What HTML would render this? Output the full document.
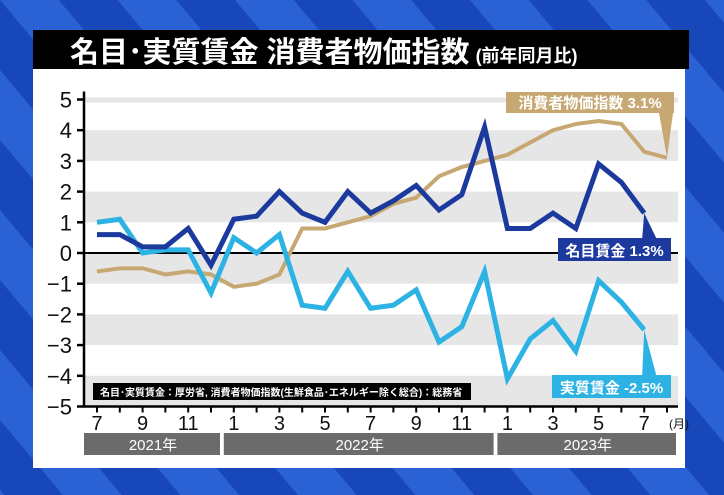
<!DOCTYPE html>
<html><head><meta charset="utf-8"><style>
html,body{margin:0;padding:0;width:724px;height:495px;overflow:hidden;font-family:"Liberation Sans","Noto Sans CJK JP",sans-serif;}
</style></head><body>
<svg width="724" height="495" viewBox="0 0 724 495" xmlns="http://www.w3.org/2000/svg">
<defs>
<pattern id="stripes" width="90" height="90" patternUnits="userSpaceOnUse" patternTransform="rotate(-40)">
<rect width="90" height="90" fill="#1747b8"/>
<rect width="45" height="90" fill="#2a62d6"/>
</pattern>
</defs>
<rect width="724" height="495" fill="url(#stripes)"/>
<rect x="33" y="68" width="652" height="400" fill="#fff"/>
<rect x="33" y="30" width="656" height="39" fill="#000"/>
<text x="70" y="62" fill="#fff" font-size="29" font-weight="bold">名目･実質賃金  消費者物価指数<tspan font-size="18" dx="6">(前年同月比)</tspan></text>
<g id="bands"></g>
<g id="axes"></g>
<g id="series"></g>
<rect x="93" y="383" width="378" height="17" fill="#000"/>
<text x="100" y="396" fill="#fff" font-size="10" font-weight="bold">名目･実質賃金：厚労省, 消費者物価指数(生鮮食品･エネルギー除く総合)：総務省</text>
<g id="labels"></g>
</svg>
<script>
const months = ["7","8","9","10","11","12","1","2","3","4","5","6","7","8","9","10","11","12","1","2","3","4","5","6","7","8"];
const monthLabels = ["7","9","11","1","3","5","7","9","11","1","3","5","7"];
const yTicks = [5,4,3,2,1,0,-1,-2,-3,-4,-5];
const nominal = [0.6,0.6,0.2,0.2,0.8,-0.4,1.1,1.2,2.0,1.3,1.0,2.0,1.3,1.7,2.2,1.4,1.9,4.1,0.8,0.8,1.3,0.8,2.9,2.3,1.3];
const real = [1.0,1.1,0.0,0.1,0.1,-1.3,0.5,0.0,0.6,-1.7,-1.8,-0.6,-1.8,-1.7,-1.2,-2.9,-2.4,-0.6,-4.1,-2.8,-2.2,-3.2,-0.9,-1.6,-2.5];
const cpi = [-0.6,-0.5,-0.5,-0.7,-0.6,-0.7,-1.1,-1.0,-0.7,0.8,0.8,1.0,1.2,1.6,1.8,2.5,2.8,3.0,3.2,3.6,4.0,4.2,4.3,4.2,3.3,3.1];
const years = [{label:"2021年",from:0,to:5},{label:"2022年",from:6,to:17},{label:"2023年",from:18,to:25}];

const NS="http://www.w3.org/2000/svg";
const x0=97, dx=22.8, yZero=253, dy=30.7;
const X=i=>x0+i*dx, Y=v=>yZero-v*dy;
function mk(tag,attrs,parent){const e=document.createElementNS(NS,tag);for(const k in attrs)e.setAttribute(k,attrs[k]);parent.appendChild(e);return e;}
const bands=document.getElementById('bands'),axes=document.getElementById('axes'),series=document.getElementById('series'),labels=document.getElementById('labels');
[[4,3],[2,1],[0,-1],[-2,-3],[-4,-5]].forEach(b=>{
 const r=mk('rect',{x:85,y:Y(b[0]),width:593,height:Y(b[1])-Y(b[0]),fill:'#e6e6e6'},bands);
 
 
});
const topLine=mk('rect',{x:85,y:Y(5)-2,width:593,height:5,fill:'#e6e6e6'},bands);


const ya=mk('line',{x1:84,y1:Y(5)-8,x2:84,y2:Y(-5)+1,stroke:'#000','stroke-width':2.5},axes);


yTicks.forEach(v=>{
 const t=mk('line',{x1:77,y1:Y(v),x2:84,y2:Y(v),stroke:'#000','stroke-width':2.5},axes);
 
 
 const tx=mk('text',{x:72,y:Y(v)+8,'text-anchor':'end','font-size':22,fill:'#111'},axes);
 tx.textContent=v<0?'−'+(-v):String(v);
 
 
});
const zl=mk('line',{x1:84,y1:Y(0),x2:678,y2:Y(0),stroke:'#000','stroke-width':2},axes);


const xa=mk('line',{x1:84,y1:Y(-5),x2:678,y2:Y(-5),stroke:'#000','stroke-width':2.5},axes);


months.forEach((m,i)=>{
 const t=mk('line',{x1:X(i),y1:Y(-5),x2:X(i),y2:Y(-5)+6,stroke:'#000','stroke-width':2},axes);
 
 
});
monthLabels.forEach((m,k)=>{
 const tx=mk('text',{x:X(k*2),y:430,'text-anchor':'middle','font-size':20,fill:'#111'},axes);
 tx.textContent=m;
 
 
});
const unit=mk('text',{x:669,y:428,'font-size':12,fill:'#111'},axes);
unit.textContent='(月)';


years.forEach(yr=>{
 const x1=yr.from===0?84:X(yr.from)-10, x2=yr.to===25?678:X(yr.to)+11;
 const r=mk('rect',{x:x1,y:433,width:x2-x1-2,height:22,fill:'#6b6b6b'},axes);
 
 
 const tx=mk('text',{x:(x1+x2)/2,y:450,'text-anchor':'middle','font-size':15,fill:'#fff'},axes);
 tx.textContent=yr.label;
 
 
});
function line(data,color,name,w){
 const p=mk('polyline',{points:data.map((v,i)=>X(i)+','+Y(v)).join(' '),fill:'none',stroke:color,'stroke-width':w,'stroke-linejoin':'miter'},series);
 
 
}
line(cpi,'#c8a872','cpi-line',4);
line(real,'#2db3e3','real-wage-line',5);
line(nominal,'#1c3a9e','nominal-wage-line',5);
function callout(bx,by,bw,bh,color,text,px,py,name,tipX){
 const tri=mk('polygon',{points:`${tipX-6},${by+(py<by?0:bh)} ${tipX+8},${by+(py<by?0:bh)} ${px},${py}`,fill:color},labels);
 
 
 const r=mk('rect',{x:bx,y:by,width:bw,height:bh,fill:color},labels);
 
 
 const t=mk('text',{x:bx+bw/2,y:by+bh-5,'text-anchor':'middle','font-size':15,'font-weight':'bold',fill:'#fff'},labels);
 t.textContent=text;
 
 
}
callout(506,92,168,21,'#c8a872','消費者物価指数 3.1%',X(25),Y(cpi[25]),'cpi-label',X(25)-2);
callout(558,238,113,23,'#1c3a9e','名目賃金 1.3%',X(24),Y(nominal[24]),'nominal-label',X(24)+4);
callout(552,375,119,23,'#2db3e3','実質賃金 -2.5%',X(24),Y(real[24]),'real-label',X(24)+4);
</script>
</body></html>
